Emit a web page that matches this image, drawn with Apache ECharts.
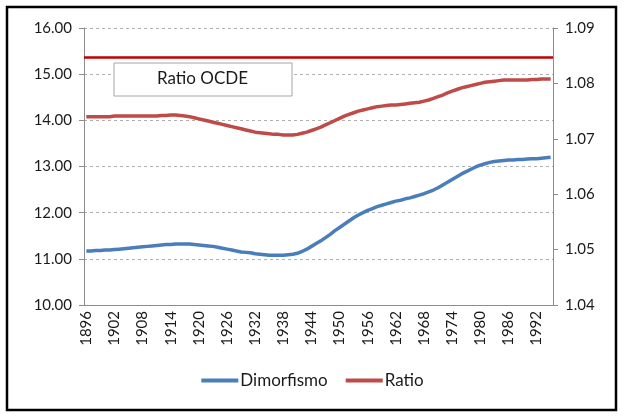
<!DOCTYPE html>
<html>
<head>
<meta charset="utf-8">
<script src="https://cdn.jsdelivr.net/npm/echarts@6/dist/echarts.min.js"></script>
<style>
html,body{margin:0;padding:0;background:#fff;}
#chart{width:625px;height:418px;}
</style>
</head>
<body>
<div id="chart"></div>
<script>
var years = [];
for (var y = 1896; y <= 1995; y++) { years.push(String(y)); }

var dimorfismo = [
  11.17, 11.17, 11.18, 11.18, 11.19, 11.19, 11.20, 11.21, 11.22, 11.23,
  11.24, 11.25, 11.26, 11.27, 11.28, 11.29, 11.30, 11.31, 11.31, 11.32,
  11.32, 11.32, 11.32, 11.31, 11.30, 11.29, 11.28, 11.27, 11.25, 11.23,
  11.21, 11.19, 11.17, 11.15, 11.14, 11.13, 11.11, 11.10, 11.09, 11.08,
  11.08, 11.08, 11.08, 11.09, 11.10, 11.12, 11.16, 11.21, 11.27, 11.33,
  11.39, 11.46, 11.53, 11.61, 11.68, 11.75, 11.82, 11.89, 11.95, 12.00,
  12.05, 12.09, 12.13, 12.16, 12.19, 12.22, 12.25, 12.27, 12.30, 12.32,
  12.35, 12.38, 12.41, 12.45, 12.49, 12.54, 12.60, 12.66, 12.72, 12.78,
  12.84, 12.89, 12.94, 12.99, 13.03, 13.06, 13.09, 13.11, 13.12, 13.13,
  13.14, 13.14, 13.15, 13.15, 13.16, 13.17, 13.17, 13.18, 13.19, 13.20
];

var ratio = [
  1.0740, 1.0740, 1.0740, 1.0740, 1.0740, 1.0740, 1.0741, 1.0741, 1.0741, 1.0741,
  1.0741, 1.0741, 1.0741, 1.0741, 1.0741, 1.0741, 1.0742, 1.0742, 1.0743, 1.0743,
  1.0742, 1.0741, 1.0740, 1.0738, 1.0736, 1.0734, 1.0732, 1.0730, 1.0728, 1.0726,
  1.0724, 1.0722, 1.0720, 1.0718, 1.0716, 1.0714, 1.0712, 1.0711, 1.0710, 1.0709,
  1.0708, 1.0708, 1.0707, 1.0707, 1.0707, 1.0708, 1.0710, 1.0712, 1.0715, 1.0718,
  1.0721, 1.0725, 1.0729, 1.0733, 1.0737, 1.0741, 1.0744, 1.0747, 1.0750, 1.0752,
  1.0754, 1.0756, 1.0758, 1.0759, 1.0760, 1.0761, 1.0761, 1.0762, 1.0763, 1.0764,
  1.0765, 1.0766, 1.0768, 1.0770, 1.0773, 1.0776, 1.0779, 1.0783, 1.0786, 1.0789,
  1.0792, 1.0794, 1.0796, 1.0798, 1.0800, 1.0802, 1.0803, 1.0804, 1.0805, 1.0806,
  1.0806, 1.0806, 1.0806, 1.0806, 1.0806, 1.0807, 1.0807, 1.0808, 1.0808, 1.0808
];

var ratioOCDE = 1.0847;
var seriesNames = ['Dimorfismo', 'Ratio'];
var boxLabel = 'Ratio OCDE';

var FONT = 'Lato';
var chart = echarts.init(document.getElementById('chart'), null, {renderer: 'canvas'});

var option = {
  backgroundColor: '#ffffff',
  animation: false,
  textStyle: {fontFamily: FONT},
  grid: {left: 84, right: 72, top: 28, bottom: 113},
  legend: {
    data: seriesNames,
    bottom: 24,
    left: 'center',
    icon: 'rect',
    itemWidth: 37,
    itemHeight: 4,
    itemGap: 18,
    textStyle: {fontFamily: FONT, fontSize: 17, color: '#1a1a1a', padding: [0, 0, 0, -3]}
  },
  graphic: [
    {
      type: 'rect',
      shape: {x: 7, y: 7, width: 609, height: 403},
      style: {fill: 'none', stroke: '#000', lineWidth: 2.5},
      silent: true
    },
    {
      type: 'rect',
      shape: {x: 114, y: 63, width: 178, height: 33},
      style: {fill: '#fff', stroke: '#a6a6a6', lineWidth: 1},
      z: 100
    },
    {
      type: 'text',
      left: 203 - 46,
      top: 70,
      z: 101,
      style: {text: boxLabel, fontFamily: FONT, fontSize: 17, fill: '#1a1a1a'}
    }
  ],
  xAxis: {
    type: 'category',
    data: years,
    boundaryGap: true,
    axisLine: {lineStyle: {color: '#8c8c8c', width: 1}},
    axisTick: {interval: 0, length: 5, lineStyle: {color: '#8c8c8c'}},
    axisLabel: {interval: 5, rotate: 90, fontFamily: FONT, fontSize: 15, color: '#1a1a1a', margin: 6},
    splitLine: {show: false}
  },
  yAxis: [
    {
      type: 'value',
      min: 10, max: 16, interval: 1,
      position: 'left',
      axisLine: {show: true, lineStyle: {color: '#8c8c8c'}},
      axisTick: {show: true, length: 5, lineStyle: {color: '#8c8c8c'}},
      axisLabel: {fontFamily: FONT, fontSize: 15, color: '#1a1a1a', margin: 12,
        formatter: function (v) { return v.toFixed(2); }},
      splitLine: {show: true, lineStyle: {color: '#b0b0b0', type: [3, 3], width: 1}}
    },
    {
      type: 'value',
      min: 1.04, max: 1.09, interval: 0.01,
      position: 'right',
      axisLine: {show: true, lineStyle: {color: '#8c8c8c'}},
      axisTick: {show: true, length: 5, lineStyle: {color: '#8c8c8c'}},
      axisLabel: {fontFamily: FONT, fontSize: 15, color: '#1a1a1a', margin: 12,
        formatter: function (v) { return v.toFixed(2); }},
      splitLine: {show: false}
    }
  ],
  series: [
    {
      name: seriesNames[0],
      type: 'line',
      yAxisIndex: 0,
      data: dimorfismo,
      showSymbol: false,
      symbol: 'none',
      smooth: false,
      lineStyle: {color: '#4a7ebb', width: 3.5},
      itemStyle: {color: '#4a7ebb'}
    },
    {
      name: seriesNames[1],
      type: 'line',
      yAxisIndex: 1,
      data: ratio,
      showSymbol: false,
      symbol: 'none',
      smooth: false,
      lineStyle: {color: '#be4b48', width: 3.5},
      itemStyle: {color: '#be4b48'},
      markLine: {
        silent: true,
        symbol: 'none',
        precision: 5,
        label: {show: false},
        lineStyle: {color: '#c00000', width: 2.5, type: 'solid'},
        data: [{yAxis: ratioOCDE}]
      }
    }
  ]
};
chart.setOption(option);
</script>
</body>
</html>
